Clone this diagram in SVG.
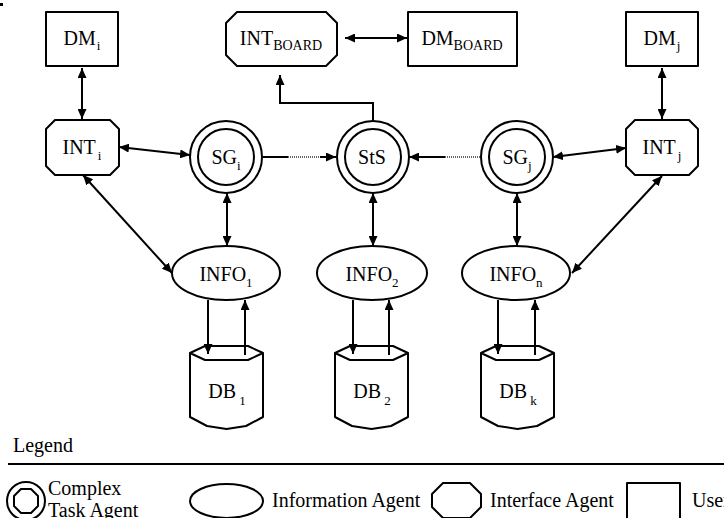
<svg xmlns="http://www.w3.org/2000/svg" width="724" height="518" viewBox="0 0 724 518">
<defs>
<style>
text{font-size:20px;fill:#000}
.c{text-anchor:middle}
.sub{font-size:13px}
.subb{font-size:14px}
.shape{fill:#fff;stroke:#000;stroke-width:2;stroke-linejoin:round}
.ln{fill:none;stroke:#000;stroke-width:2}
.arr{marker-end:url(#ah)}
.arr2{marker-start:url(#ah);marker-end:url(#ah)}
.dot{fill:none;stroke:#666;stroke-width:2;stroke-dasharray:1 1}
</style>
<marker id="ah" viewBox="0 0 10 9" refX="10" refY="4.5" markerWidth="10" markerHeight="9" markerUnits="userSpaceOnUse" orient="auto-start-reverse">
<path d="M0,0 L10,4.5 L0,9 Z" fill="#000"/>
</marker>
<path id="dbshape" d="M-36.5,353 L-21.5,346 L21.5,346 L36.5,353 L36.5,417 L19.5,426 L0,429 L-19.5,426 L-36.5,417 Z M-36.5,353 L-21.5,360 L21.5,360 L36.5,353"/>
</defs>
<rect x="0" y="3" width="3" height="3" fill="#000"/>
<g font-family="Liberation Serif, Times New Roman, serif">
<g id="DMi">
<rect class="shape" x="46" y="12" width="72" height="54"/>
<text class="c" x="82" y="45">DM<tspan class="sub" dx="1" dy="5">i</tspan></text>
</g>
<g id="DMj">
<rect class="shape" x="626" y="12" width="72" height="54"/>
<text class="c" x="662" y="45">DM<tspan class="sub" dx="1" dy="5">j</tspan></text>
</g>
<g id="INTboard">
<path class="shape" d="M237,12 H326 L337,23 V55 L326,66 H237 L226,55 V23 Z"/>
<text class="c" x="281" y="45">INT<tspan class="subb" dy="5">BOARD</tspan></text>
</g>
<g id="DMboard">
<rect class="shape" x="408" y="12" width="109" height="54"/>
<text class="c" x="462" y="45">DM<tspan class="subb" dy="5">BOARD</tspan></text>
</g>
<g id="INTi">
<path class="shape" d="M55,120 H110 L119,129 V166 L110,175 H55 L46,166 V129 Z"/>
<text class="c" x="82" y="154">INT<tspan class="sub" dx="2" dy="6">i</tspan></text>
</g>
<g id="INTj">
<path class="shape" d="M635,120 H689 L698,129 V166 L689,175 H635 L626,166 V129 Z"/>
<text class="c" x="662" y="154">INT<tspan class="sub" dx="2" dy="6">j</tspan></text>
</g>
<g id="SGi">
<circle class="shape" cx="226" cy="157" r="36"/>
<circle class="shape" cx="226" cy="157" r="28"/>
<text class="c" x="226" y="164">SG<tspan class="sub" dy="6">i</tspan></text>
</g>
<g id="StS">
<circle class="shape" cx="373" cy="157" r="36"/>
<circle class="shape" cx="373" cy="157" r="28"/>
<text class="c" x="372" y="164">StS</text>
</g>
<g id="SGj">
<circle class="shape" cx="517" cy="157" r="36"/>
<circle class="shape" cx="517" cy="157" r="28"/>
<text class="c" x="517" y="164">SG<tspan class="sub" dy="6">j</tspan></text>
</g>
<g id="INFO1">
<ellipse class="shape" cx="226" cy="273" rx="54" ry="27"/>
<text class="c" x="226" y="281">INFO<tspan class="sub" dy="6">1</tspan></text>
</g>
<g id="INFO2">
<ellipse class="shape" cx="372" cy="273" rx="55" ry="27"/>
<text class="c" x="372" y="281">INFO<tspan class="sub" dy="6">2</tspan></text>
</g>
<g id="INFOn">
<ellipse class="shape" cx="516" cy="273" rx="54" ry="27"/>
<text class="c" x="516" y="281">INFO<tspan class="sub" dy="6">n</tspan></text>
</g>
<g id="DB1">
<use href="#dbshape" class="shape" transform="translate(226.5,0)"/>
<text class="c" x="227" y="398">DB<tspan class="sub" dx="3" dy="7">1</tspan></text>
</g>
<g id="DB2">
<use href="#dbshape" class="shape" transform="translate(371.5,0)"/>
<text class="c" x="372" y="398">DB<tspan class="sub" dx="3" dy="7">2</tspan></text>
</g>
<g id="DBk">
<use href="#dbshape" class="shape" transform="translate(517.5,0)"/>
<text class="c" x="518" y="398">DB<tspan class="sub" dx="3" dy="7">k</tspan></text>
</g>

<g id="connectors">
<line class="ln arr2" x1="82" y1="68" x2="82" y2="119"/>
<line class="ln arr2" x1="662" y1="68" x2="662" y2="119"/>
<line class="ln arr2" x1="345" y1="38" x2="407" y2="38"/>
<polyline class="ln arr" points="373,121 373,103 280,103 280,75"/>
<line class="ln arr2" x1="119" y1="147" x2="190" y2="155"/>
<line class="ln arr2" x1="553" y1="157" x2="626" y2="148"/>
<line class="ln arr2" x1="83" y1="175" x2="172" y2="273"/>
<line class="ln arr2" x1="662" y1="176" x2="572" y2="273"/>
<line class="ln arr2" x1="227" y1="193" x2="227" y2="246"/>
<line class="ln arr2" x1="373" y1="193" x2="373" y2="246"/>
<line class="ln arr2" x1="517" y1="193" x2="517" y2="246"/>
<line class="ln" x1="263" y1="157" x2="288" y2="157"/>
<line class="dot" x1="288" y1="157" x2="320" y2="157"/>
<line class="ln arr" x1="320" y1="157" x2="336" y2="157"/>
<line class="dot" x1="445" y1="157" x2="480" y2="157"/>
<line class="ln arr" x1="445" y1="157" x2="409" y2="157"/>
<line class="ln arr" x1="208" y1="300" x2="208" y2="354"/>
<line class="ln arr" x1="245" y1="355" x2="245" y2="300"/>
<line class="ln arr" x1="353" y1="300" x2="353" y2="354"/>
<line class="ln arr" x1="389" y1="355" x2="389" y2="300"/>
<line class="ln arr" x1="498" y1="300" x2="498" y2="354"/>
<line class="ln arr" x1="535" y1="355" x2="535" y2="300"/>
</g>

<g id="legend">
<text x="13" y="452">Legend</text>
<line x1="8" y1="464" x2="724" y2="464" stroke="#000" stroke-width="2"/>
<circle class="shape" cx="26" cy="501" r="19"/>
<path class="shape" d="M21,489 H31 L38,496 V506 L31,513 H21 L14,506 V496 Z"/>
<text x="48" y="495">Complex</text>
<text x="48" y="517">Task Agent</text>
<ellipse class="shape" cx="226.5" cy="501" rx="36.5" ry="17"/>
<text x="272" y="507">Information Agent</text>
<path class="shape" d="M443,483 H470 L481,494 V507 L470,518 H443 L432,507 V494 Z"/>
<text x="490" y="507">Interface Agent</text>
<rect class="shape" x="627" y="483" width="53" height="40"/>
<text x="692" y="507">User</text>
</g>
</g>
</svg>
